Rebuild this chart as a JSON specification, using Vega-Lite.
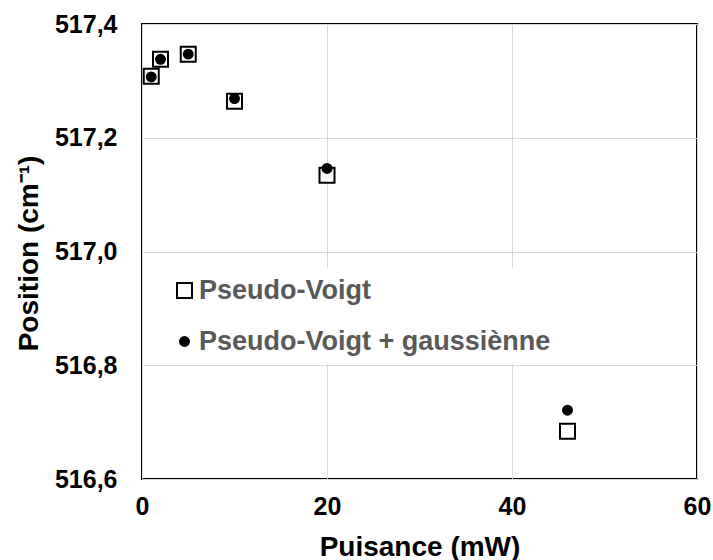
{
  "$schema": "https://vega.github.io/schema/vega-lite/v6.json",
  "width": 555,
  "height": 455,
  "autosize": {"type": "none"},
  "padding": {"left": 142, "top": 24, "right": 16, "bottom": 81},
  "background": "white",
  "config": {
    "font": "Liberation Sans",
    "view": {"stroke": "#000000", "strokeWidth": 2},
    "legend": {
      "orient": "none",
      "legendX": 20,
      "legendY": 244,
      "title": null,
      "fillColor": "white",
      "padding": 9,
      "labelFont": "Liberation Sans",
      "labelFontSize": 27,
      "labelFontWeight": "bold",
      "labelColor": "#595959",
      "labelLimit": 600,
      "labelOffset": 1,
      "rowPadding": 23,
      "symbolStrokeWidth": 2
    }
  },
  "data": {
    "values": [
      {"power": 1, "position": 517.308, "series": "Pseudo-Voigt"},
      {"power": 2, "position": 517.338, "series": "Pseudo-Voigt"},
      {"power": 5, "position": 517.347, "series": "Pseudo-Voigt"},
      {"power": 10, "position": 517.264, "series": "Pseudo-Voigt"},
      {"power": 20, "position": 517.134, "series": "Pseudo-Voigt"},
      {"power": 46, "position": 516.684, "series": "Pseudo-Voigt"},
      {"power": 1, "position": 517.307, "series": "Pseudo-Voigt + gaussiènne"},
      {"power": 2, "position": 517.338, "series": "Pseudo-Voigt + gaussiènne"},
      {"power": 5, "position": 517.347, "series": "Pseudo-Voigt + gaussiènne"},
      {"power": 10, "position": 517.269, "series": "Pseudo-Voigt + gaussiènne"},
      {"power": 20, "position": 517.146, "series": "Pseudo-Voigt + gaussiènne"},
      {"power": 46, "position": 516.721, "series": "Pseudo-Voigt + gaussiènne"}
    ]
  },
  "mark": {"type": "point", "strokeWidth": 2, "opacity": 1},
  "encoding": {
    "x": {
      "field": "power",
      "type": "quantitative",
      "scale": {"domain": [0, 60], "nice": false, "zero": false},
      "axis": {
        "values": [0, 20, 40, 60],
        "title": "Puisance (mW)",
        "grid": true,
        "gridColor": "#d9d9d9",
        "gridWidth": 1,
        "domain": false,
        "ticks": false,
        "labelFlush": false,
        "labelFont": "Liberation Sans",
        "labelFontSize": 25,
        "labelFontWeight": "bold",
        "labelColor": "#000000",
        "labelPadding": 15,
        "titleFont": "Liberation Sans",
        "titleFontSize": 28,
        "titleFontWeight": "bold",
        "titleColor": "#000000",
        "titleY": 54,
        "titleBaseline": "top"
      }
    },
    "y": {
      "field": "position",
      "type": "quantitative",
      "scale": {"domain": [516.6, 517.4], "nice": false, "zero": false},
      "axis": {
        "values": [516.6, 516.8, 517.0, 517.2, 517.4],
        "labelExpr": "replace(format(datum.value, '.1f'), '.', ',')",
        "title": "Position (cm⁻¹)",
        "grid": true,
        "gridColor": "#d9d9d9",
        "gridWidth": 1,
        "domain": false,
        "ticks": false,
        "labelFlush": false,
        "labelFont": "Liberation Sans",
        "labelFontSize": 25,
        "labelFontWeight": "bold",
        "labelColor": "#000000",
        "labelPadding": 25,
        "titleFont": "Liberation Sans",
        "titleFontSize": 28,
        "titleFontWeight": "bold",
        "titleColor": "#000000",
        "titleAngle": -90,
        "titleX": -113,
        "titleY": 229,
        "titleAlign": "center",
        "titleBaseline": "middle"
      }
    },
    "shape": {
      "field": "series",
      "type": "nominal",
      "scale": {"domain": ["Pseudo-Voigt", "Pseudo-Voigt + gaussiènne"], "range": ["square", "circle"]}
    },
    "fill": {
      "field": "series",
      "type": "nominal",
      "scale": {"domain": ["Pseudo-Voigt", "Pseudo-Voigt + gaussiènne"], "range": ["#ffffff", "#000000"]}
    },
    "stroke": {
      "field": "series",
      "type": "nominal",
      "scale": {"domain": ["Pseudo-Voigt", "Pseudo-Voigt + gaussiènne"], "range": ["#000000", "#000000"]}
    },
    "size": {
      "field": "series",
      "type": "nominal",
      "scale": {"domain": ["Pseudo-Voigt", "Pseudo-Voigt + gaussiènne"], "range": [225, 80]}
    }
  }
}
